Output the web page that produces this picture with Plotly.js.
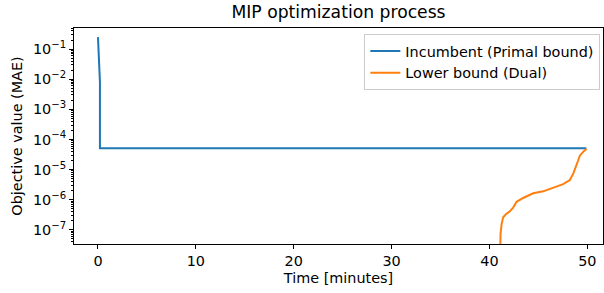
<!DOCTYPE html>
<html>
<head>
<meta charset="utf-8">
<script src="https://cdn.plot.ly/plotly-3.0.1.min.js"></script>
<style>html,body{margin:0;padding:0;background:#fff;}#chart{width:604px;height:293px;}</style>
</head>
<body>
<div id="chart"></div>
<script>
// Incumbent (primal bound)
const incumbentTime = [0, 0.03, 0.12, 0.2, 0.2, 49.9];
const incumbentValue = [0.25, 0.17, 0.02, 0.008, 5.1e-5, 5.1e-5];
// Lower bound (dual)
const lowerTime = [41.1, 41.13, 41.24, 41.40, 41.68, 42.08, 42.42, 42.77, 43.44, 44.47, 45.49, 46.51, 47.53, 48.21, 48.55, 49.06, 49.23, 49.64, 49.92];
const lowerValue = [1e-8, 7.2e-8, 1.55e-7, 2.6e-7, 3.3e-7, 4.1e-7, 5.5e-7, 8.5e-7, 1.14e-6, 1.63e-6, 1.9e-6, 2.57e-6, 3.3e-6, 4.5e-6, 7.2e-6, 2.0e-5, 2.9e-5, 4.1e-5, 4.9e-5];
// Ticks
const xTicks = [0, 10, 20, 30, 40, 50];
const yTickVals = [1e-7, 1e-6, 1e-5, 1e-4, 1e-3, 1e-2, 1e-1];
const yTickText = ["10<sup>−7</sup>", "10<sup>−6</sup>", "10<sup>−5</sup>", "10<sup>−4</sup>", "10<sup>−3</sup>", "10<sup>−2</sup>", "10<sup>−1</sup>"];

const font = "DejaVu Sans, sans-serif";
const fs = 14.4;
const traces = [
  {x: incumbentTime, y: incumbentValue, type: 'scatter', mode: 'lines', name: 'Incumbent (Primal bound)',
   line: {color: '#1f77b4', width: 2}},
  {x: lowerTime, y: lowerValue, type: 'scatter', mode: 'lines', name: 'Lower bound (Dual)',
   line: {color: '#ff7f0e', width: 2}}
];
const layout = {
  width: 604, height: 293,
  margin: {l: 74, r: 1, t: 28, b: 49},
  paper_bgcolor: '#fff', plot_bgcolor: '#fff',
  font: {family: font, size: fs, color: '#000'},
  title: {text: 'MIP optimization process', font: {family: font, size: 17.2, color: '#000'}, x: 0.5, xanchor: 'center', y: 0.958, yanchor: 'middle', xref: 'paper'},
  showlegend: true,
  legend: {x: 0.995, y: 0.972, xanchor: 'right', yanchor: 'top', bgcolor: 'rgba(255,255,255,0.8)', bordercolor: '#cccccc', borderwidth: 1, font: {family: font, size: fs}, tracegroupgap: 0},
  xaxis: {
    range: [-2.45, 51.6], tickvals: xTicks, ticks: 'outside', ticklen: 4, tickcolor: '#000',
    showgrid: false, zeroline: false, showline: true, mirror: true, linecolor: '#000', linewidth: 1,
    title: {text: 'Time [minutes]', font: {family: font, size: fs}, standoff: 4},
    tickfont: {family: font, size: fs}
  },
  yaxis: {
    type: 'log', range: [-7.47, -0.3], tickvals: yTickVals, ticktext: yTickText,
    ticks: 'outside', ticklen: 4, tickcolor: '#000',
    minor: {ticks: 'outside', ticklen: 2, tickcolor: '#000', dtick: 'D1', showgrid: false},
    showgrid: false, zeroline: false, showline: true, mirror: true, linecolor: '#000', linewidth: 1,
    title: {text: 'Objective value (MAE)', font: {family: font, size: fs}, standoff: 6},
    tickfont: {family: font, size: fs}
  }
};
Plotly.newPlot('chart', traces, layout, {displayModeBar: false, staticPlot: true});
</script>
</body>
</html>
